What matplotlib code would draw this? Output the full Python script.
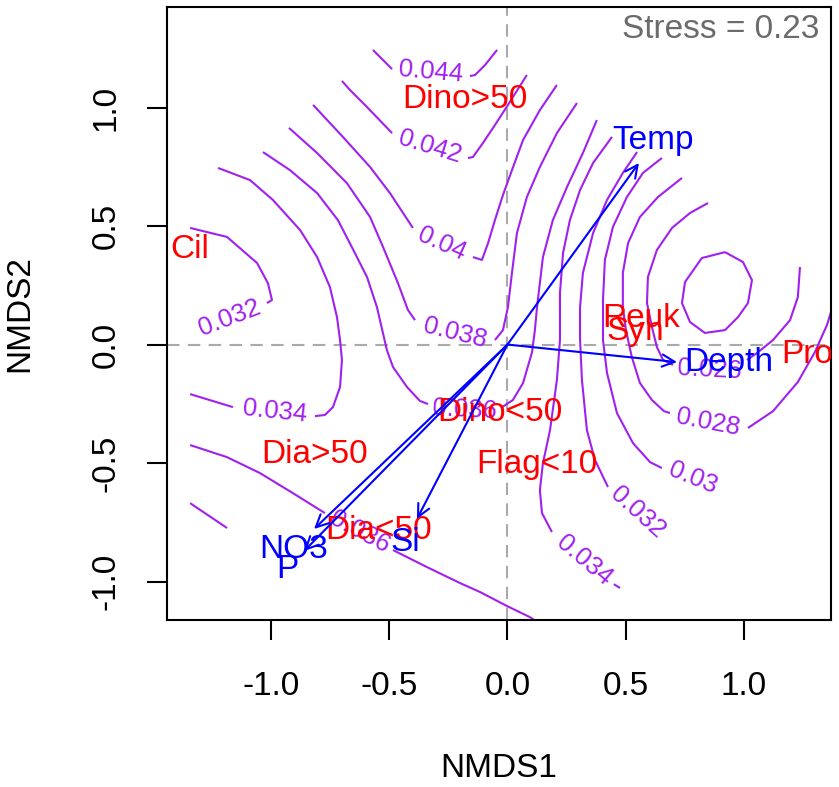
import matplotlib
matplotlib.use('Agg')
import matplotlib.pyplot as plt

plt.rcParams['font.family'] = ['Liberation Sans', 'DejaVu Sans']
plt.rcParams['axes.unicode_minus'] = False

# --- species scores (text only) ---
sp_names = ['Dino>50', 'Cil', 'Reuk', 'Syn', 'Pro', 'Dino<50', 'Flag<10', 'Dia>50', 'Dia<50']
sp_x = [-0.180, -1.342, 0.564, 0.539, 1.266, -0.032, 0.123, -0.814, -0.545]
sp_y = [1.032, 0.399, 0.112, 0.053, -0.044, -0.285, -0.504, -0.462, -0.783]

# --- envfit vectors ---
env_names = ['Temp', 'Depth', 'NO3', 'P', 'Si']
env_x = [0.556, 0.717, -0.818, -0.860, -0.383]
env_y = [0.766, -0.074, -0.778, -0.871, -0.736]
env_lab_x = [0.615, 0.937, -0.905, -0.930, -0.433]
env_lab_y = [0.859, -0.074, -0.865, -0.951, -0.835]

# --- ordisurf contours, pieces split where labels sit ---
c044a_x = [-0.569, -0.488]
c044a_y = [1.243, 1.162]
c044b_x = [-0.159, -0.137, -0.095, -0.044]
c044b_y = [1.133, 1.137, 1.179, 1.243]

c042a_x = [-0.700, -0.666, -0.594, -0.488]
c042a_y = [1.112, 1.074, 1.002, 0.892]
c042b_x = [-0.167, -0.146, -0.104, -0.053, 0.002, 0.082]
c042b_y = [0.787, 0.791, 0.850, 0.926, 1.011, 1.137]

c040a_x = [-0.822, -0.696, -0.581, -0.497, -0.400]
c040a_y = [1.011, 0.876, 0.749, 0.639, 0.492]
c040b_x = [-0.146, -0.108, -0.082, -0.053, -0.019, 0.019, 0.066, 0.137, 0.209]
c040b_y = [0.369, 0.357, 0.428, 0.525, 0.631, 0.736, 0.863, 0.989, 1.095]

c038a_x = [-0.924, -0.805, -0.679, -0.581, -0.526, -0.463, -0.421, -0.391]
c038a_y = [0.914, 0.808, 0.681, 0.538, 0.411, 0.259, 0.146, 0.103]
c038b_x = [-0.053, -0.019, 0.002, 0.019, 0.040, 0.082, 0.137, 0.209, 0.294]
c038b_y = [0.019, 0.061, 0.158, 0.302, 0.470, 0.622, 0.749, 0.892, 1.019]
c038c_x = [-1.342, -1.186]
c038c_y = [-0.669, -0.774]

c036a_x = [-1.034, -0.920, -0.805, -0.717, -0.658, -0.594, -0.552, -0.510, -0.484, -0.425, -0.370, -0.336]
c036a_y = [0.812, 0.736, 0.639, 0.525, 0.411, 0.285, 0.158, -0.023, -0.095, -0.179, -0.238, -0.251]
c036b_x = [-0.023, 0.023, 0.066, 0.104, 0.116, 0.125, 0.150, 0.192, 0.252, 0.319, 0.378]
c036b_y = [-0.264, -0.234, -0.162, -0.032, 0.061, 0.158, 0.369, 0.525, 0.665, 0.808, 0.947]
c036c_x = [-1.342, -1.186, -1.047, -0.907, -0.772]
c036c_y = [-0.424, -0.475, -0.542, -0.627, -0.711]
c036d_x = [-0.484, -0.340, -0.201, -0.116, -0.002, 0.095, 0.159]
c036d_y = [-0.867, -0.939, -1.006, -1.044, -1.103, -1.150, -1.192]

c034a_x = [-1.224, -1.089, -0.992, -0.877, -0.805, -0.751, -0.721, -0.708, -0.700, -0.708, -0.738, -0.772, -0.814]
c034a_y = [0.745, 0.694, 0.610, 0.483, 0.369, 0.243, 0.116, 0.019, -0.065, -0.179, -0.264, -0.297, -0.302]
c034b_x = [-1.161, -1.342]
c034b_y = [-0.264, -0.209]
c034c_x = [0.442, 0.362, 0.307, 0.264, 0.235, 0.222, 0.222, 0.209, 0.180, 0.150, 0.137, 0.146, 0.188]
c034c_y = [0.876, 0.766, 0.652, 0.525, 0.386, 0.217, 0.019, -0.150, -0.361, -0.500, -0.614, -0.711, -0.791]
c034d_x = [0.450, 0.476]
c034d_y = [-1.011, -1.027]

c032a_x = [-1.342, -1.186, -1.059, -1.013, -0.996, -1.017]
c032a_y = [0.492, 0.454, 0.344, 0.259, 0.188, 0.175]
c032b_x = [0.548, 0.488, 0.421, 0.362, 0.319, 0.307, 0.307, 0.315, 0.336, 0.370, 0.425]
c032b_y = [0.812, 0.724, 0.610, 0.470, 0.302, 0.158, 0.019, -0.150, -0.361, -0.487, -0.601]

c030_x = [0.653, 0.573, 0.505, 0.446, 0.412, 0.404, 0.404, 0.421, 0.463, 0.531, 0.603, 0.653]
c030_y = [0.787, 0.724, 0.622, 0.496, 0.357, 0.188, 0.019, -0.120, -0.289, -0.416, -0.496, -0.521]

c028a_x = [0.738, 0.636, 0.560, 0.510, 0.488, 0.488, 0.501, 0.526, 0.560, 0.611, 0.662, 0.687]
c028a_y = [0.703, 0.622, 0.538, 0.428, 0.302, 0.158, 0.061, -0.053, -0.162, -0.234, -0.281, -0.289]
c028b_x = [1.017, 1.123, 1.228, 1.300, 1.351, 1.397]
c028b_y = [-0.352, -0.281, -0.158, -0.032, 0.082, 0.230]

c026a_x = [0.848, 0.772, 0.696, 0.632, 0.594, 0.590, 0.611, 0.632, 0.658, 0.700]
c026a_y = [0.597, 0.555, 0.492, 0.399, 0.285, 0.175, 0.074, -0.011, -0.065, -0.086]
c026b_x = [1.013, 1.055, 1.123, 1.195, 1.228, 1.237]
c026b_y = [-0.065, -0.036, 0.019, 0.103, 0.200, 0.327]

c024_x = [0.920, 0.996, 1.034, 1.017, 0.975, 0.920, 0.835, 0.772, 0.738, 0.751, 0.822, 0.920]
c024_y = [0.390, 0.348, 0.272, 0.175, 0.116, 0.061, 0.049, 0.095, 0.175, 0.264, 0.365, 0.390]

contour_pieces = [
    (c044a_x, c044a_y), (c044b_x, c044b_y),
    (c042a_x, c042a_y), (c042b_x, c042b_y),
    (c040a_x, c040a_y), (c040b_x, c040b_y),
    (c038a_x, c038a_y), (c038b_x, c038b_y), (c038c_x, c038c_y),
    (c036a_x, c036a_y), (c036b_x, c036b_y), (c036c_x, c036c_y), (c036d_x, c036d_y),
    (c034a_x, c034a_y), (c034b_x, c034b_y), (c034c_x, c034c_y), (c034d_x, c034d_y),
    (c032a_x, c032a_y), (c032b_x, c032b_y),
    (c030_x, c030_y),
    (c028a_x, c028a_y), (c028b_x, c028b_y),
    (c026a_x, c026a_y), (c026b_x, c026b_y),
    (c024_x, c024_y),
]

# contour labels
clab_text = ['0.044', '0.042', '0.04', '0.038', '0.036', '0.034', '0.032',
             '0.036', '0.034', '0.032', '0.03', '0.028', '0.026']
clab_x = [-0.323, -0.328, -0.277, -0.222, -0.180, -0.983, -1.173,
          -0.624, 0.323, 0.552, 0.784, 0.848, 0.856]
clab_y = [1.150, 0.833, 0.424, 0.049, -0.276, -0.281, 0.112,
          -0.791, -0.909, -0.707, -0.563, -0.327, -0.108]
clab_rot = [-5, -17, -24, -14, -3, -6, 21, -28, -40, -42, -22, -11, -3]

stress_txt = 'Stress = 0.23'

purple = '#A020F0'

fig = plt.figure(figsize=(8.39, 7.87), dpi=100)
ax = fig.add_axes([0.1990, 0.2122, 0.7914, 0.7789])
ax.set_xlim(-1.440, 1.368)
ax.set_ylim(-1.162, 1.424)

ax.axhline(0, color='#AAAAAA', lw=1.5, ls=(0, (6, 4)), zorder=1)
ax.axvline(0, color='#AAAAAA', lw=1.5, ls=(0, (6, 4)), zorder=1)

for xs, ys in contour_pieces:
    ax.plot(xs, ys, color=purple, lw=1.5, zorder=2, solid_capstyle='butt')

for t, x, y, r in zip(clab_text, clab_x, clab_y, clab_rot):
    ax.text(x, y, t, color=purple, fontsize=18.5, rotation=r,
            ha='center', va='center', rotation_mode='anchor', zorder=3)

for name, x, y in zip(sp_names, sp_x, sp_y):
    ax.text(x, y, name, color='red', fontsize=24, ha='center', va='center',
            zorder=4, clip_on=True)

for x, y in zip(env_x, env_y):
    ax.annotate('', xy=(x, y), xytext=(0, 0),
                arrowprops=dict(arrowstyle='->,head_length=0.45,head_width=0.22',
                                color='blue', lw=1.5, shrinkA=0, shrinkB=0,
                                mutation_scale=20),
                zorder=5)
for name, x, y in zip(env_names, env_lab_x, env_lab_y):
    ax.text(x, y, name, color='blue', fontsize=24, ha='center', va='center', zorder=6)

ax.text(1.321, 1.331, stress_txt, color='#6B6B6B', fontsize=24, ha='right', va='center')

ax.set_xticks([-1.0, -0.5, 0.0, 0.5, 1.0])
ax.set_xticklabels(['-1.0', '-0.5', '0.0', '0.5', '1.0'])
ax.set_yticks([-1.0, -0.5, 0.0, 0.5, 1.0])
ax.set_yticklabels(['-1.0', '-0.5', '0.0', '0.5', '1.0'], rotation=90, va='center')
ax.tick_params(axis='both', direction='out', length=14.5, width=1.5, labelsize=24)
ax.tick_params(axis='x', pad=22)
ax.tick_params(axis='y', pad=18)
for s in ax.spines.values():
    s.set_linewidth(1.5)

fig.text(0.5948, 0.0229, 'NMDS1', fontsize=24, ha='center', va='center')
fig.text(0.0238, 0.6017, 'NMDS2', fontsize=24, ha='center', va='center', rotation=90)

fig.savefig('out.png', dpi=100)
